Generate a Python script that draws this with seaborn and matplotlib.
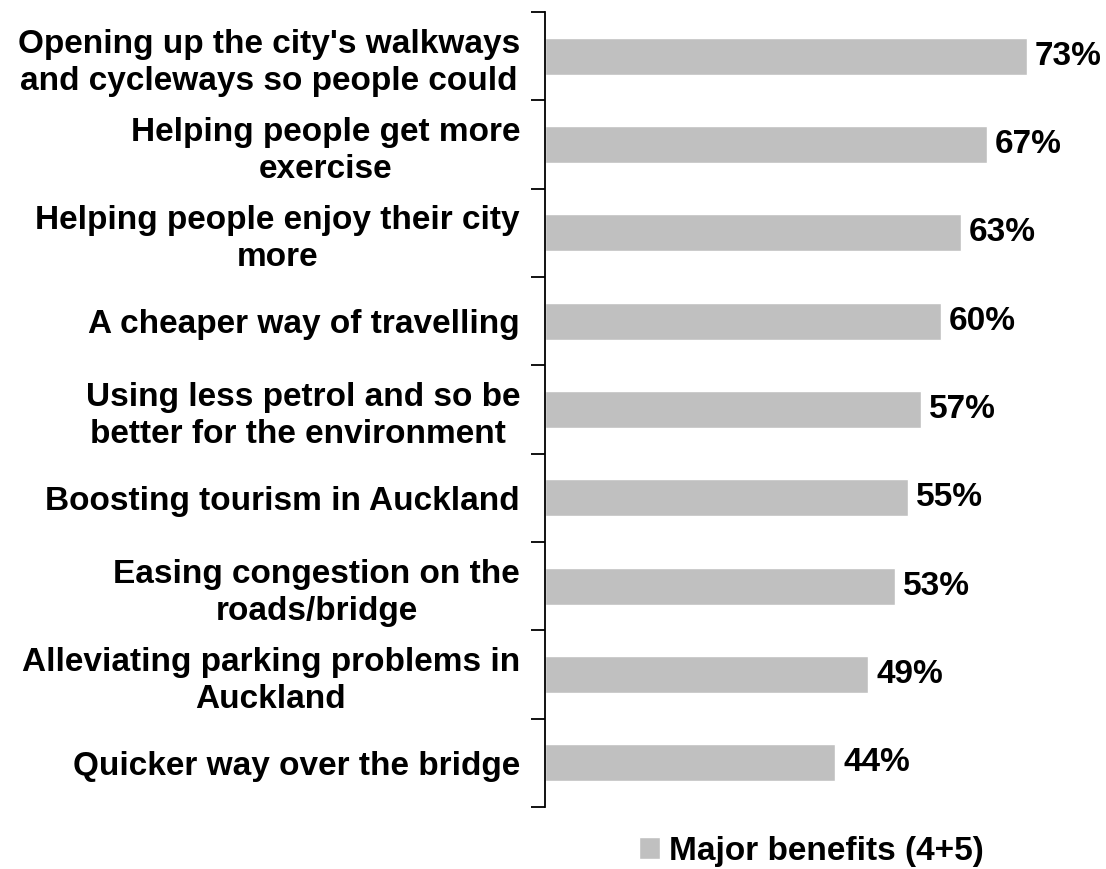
import seaborn as sns
import matplotlib.pyplot as plt

# survey results - share rating each item a major benefit (4+5)
categories = [
    "Opening up the city's walkways\nand cycleways so people could",
    "Helping people get more\nexercise",
    "Helping people enjoy their city\nmore",
    "A cheaper way of travelling",
    "Using less petrol and so be\nbetter for the environment ",
    "Boosting tourism in Auckland",
    "Easing congestion on the\nroads/bridge",
    "Alleviating parking problems in\nAuckland",
    "Quicker way over the bridge",
]
values = [73, 67, 63, 60, 57, 55, 53, 49, 44]
series_name = "Major benefits (4+5)"

FS = 24

sns.set_style("white")
plt.rcParams['font.family'] = ['Liberation Sans', 'DejaVu Sans']
plt.rcParams['font.weight'] = 'bold'
plt.rcParams['text.color'] = 'black'

fig = plt.figure(figsize=(11.06, 8.69), dpi=100)
ax = fig.add_axes([0.4928, 0.0713, 0.5072, 0.9149])

sns.barplot(x=values, y=categories, color='#C0C0C0', saturation=1,
            width=0.42, label=series_name, ax=ax)

ax.set_xlim(0, 85)
ax.set_ylim(len(categories) - 0.5, -0.5)
ax.set_xlabel('')
ax.set_ylabel('')
ax.set_xticks([])

# ticks sit at the category boundaries, labels at the centres
ax.set_yticks([i - 0.5 for i in range(len(categories) + 1)], minor=False)
ax.set_yticklabels([])
ax.set_yticks(range(len(categories)), minor=True)
ax.set_yticklabels(categories, minor=True, fontsize=FS, fontweight='bold',
                   multialignment='center', linespacing=1.25, color='black')
ax.tick_params(axis='y', which='major', direction='out', length=10, width=1.3,
               color='black', left=True)
ax.tick_params(axis='y', which='minor', length=0, pad=18)

for side in ['top', 'right', 'bottom']:
    ax.spines[side].set_visible(False)
ax.spines['left'].set_color('black')
ax.spines['left'].set_linewidth(1.3)

for i, v in enumerate(values):
    ax.text(v + 1.2, i, f"{v}%", va='center', ha='left', fontsize=FS,
            fontweight='bold', color='black')

if ax.legend_:
    ax.legend_.remove()
handles, labels = ax.get_legend_handles_labels()
leg = fig.legend(handles, labels, loc='center left', bbox_to_anchor=(0.5624, 0.0205),
                 frameon=False, handlelength=0.63, handleheight=0.63,
                 handletextpad=0.27, borderpad=0, prop={'weight': 'bold', 'size': FS})
for t in leg.get_texts():
    t.set_color('black')

fig.savefig('out.png', dpi=100)
